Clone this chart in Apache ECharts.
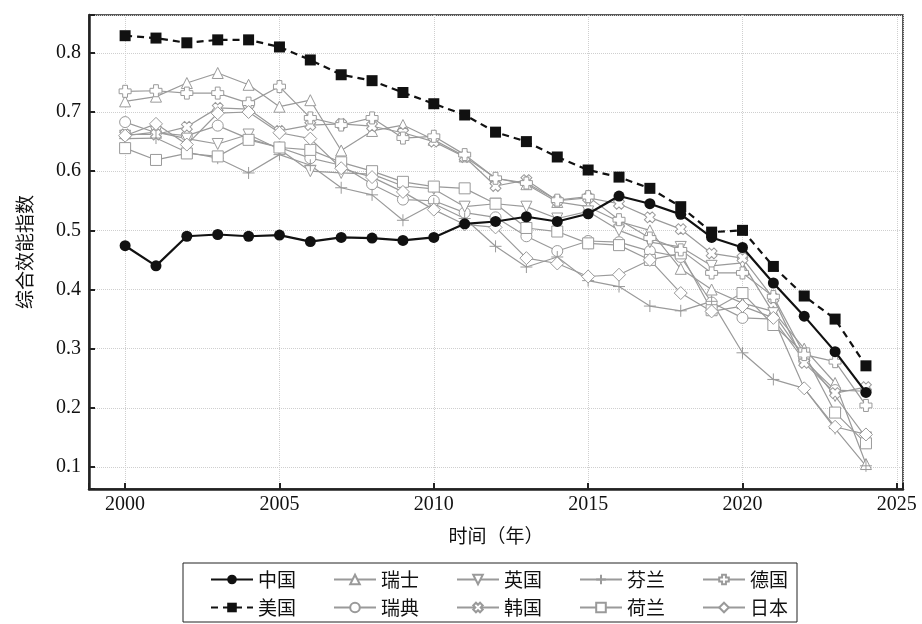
<!DOCTYPE html>
<html>
<head>
<meta charset="utf-8">
<script src="https://cdn.jsdelivr.net/npm/echarts@6/dist/echarts.min.js"></script>
<style>
  html, body { margin: 0; padding: 0; background: #fff; }
  #main { width: 922px; height: 624px; }
</style>
</head>
<body>
<div id="main"></div>
<script>
var years = [2000, 2001, 2002, 2003, 2004, 2005, 2006, 2007, 2008, 2009, 2010, 2011, 2012,
             2013, 2014, 2015, 2016, 2017, 2018, 2019, 2020, 2021, 2022, 2023, 2024];

var china = [0.474, 0.440, 0.490, 0.493, 0.490, 0.492, 0.481, 0.488, 0.487, 0.483, 0.488, 0.511, 0.515,
             0.523, 0.515, 0.528, 0.558, 0.545, 0.527, 0.488, 0.471, 0.411, 0.355, 0.295, 0.226];
var usa = [0.829, 0.825, 0.817, 0.822, 0.822, 0.810, 0.788, 0.763, 0.753, 0.733, 0.714, 0.695, 0.666,
           0.650, 0.624, 0.602, 0.590, 0.571, 0.540, 0.497, 0.500, 0.439, 0.389, 0.350, 0.271];
var swiss = [0.718, 0.726, 0.749, 0.766, 0.746, 0.709, 0.720, 0.635, 0.668, 0.678, 0.653, 0.625, 0.588,
             0.578, 0.548, 0.540, 0.515, 0.500, 0.435, 0.400, 0.377, 0.363, 0.300, 0.242, 0.105];
var sweden = [0.683, 0.665, 0.660, 0.677, 0.655, 0.640, 0.622, 0.610, 0.578, 0.552, 0.550, 0.530, 0.522,
              0.490, 0.465, 0.482, 0.480, 0.465, 0.455, 0.378, 0.352, 0.350, 0.280, 0.230, 0.228];
var uk = [0.660, 0.666, 0.655, 0.646, 0.662, 0.637, 0.600, 0.597, 0.595, 0.575, 0.570, 0.540, 0.545,
          0.540, 0.520, 0.532, 0.500, 0.480, 0.472, 0.440, 0.445, 0.360, 0.285, 0.220, 0.150];
var korea = [0.662, 0.662, 0.675, 0.707, 0.705, 0.668, 0.678, 0.680, 0.676, 0.665, 0.650, 0.624, 0.575,
             0.585, 0.550, 0.555, 0.545, 0.522, 0.502, 0.461, 0.453, 0.385, 0.276, 0.225, 0.235];
var finland = [0.655, 0.656, 0.632, 0.622, 0.597, 0.628, 0.610, 0.572, 0.560, 0.517, 0.545, 0.520, 0.473,
               0.438, 0.455, 0.415, 0.405, 0.372, 0.364, 0.380, 0.293, 0.248, 0.233, 0.165, 0.102];
var netherlands = [0.639, 0.619, 0.630, 0.625, 0.653, 0.640, 0.636, 0.615, 0.600, 0.582, 0.574, 0.571, 0.545,
                   0.504, 0.498, 0.478, 0.475, 0.450, 0.461, 0.365, 0.394, 0.340, 0.292, 0.192, 0.140];
var germany = [0.735, 0.736, 0.732, 0.732, 0.715, 0.743, 0.690, 0.678, 0.690, 0.656, 0.659, 0.628, 0.588,
               0.580, 0.551, 0.557, 0.518, 0.487, 0.467, 0.428, 0.428, 0.388, 0.290, 0.278, 0.204];
var japan = [0.660, 0.680, 0.645, 0.698, 0.700, 0.665, 0.655, 0.605, 0.590, 0.565, 0.535, 0.510, 0.505,
             0.453, 0.444, 0.422, 0.425, 0.450, 0.394, 0.363, 0.372, 0.352, 0.233, 0.168, 0.155];

var legendRow1 = ['中国', '瑞士', '英国', '芬兰', '德国'];
var legendRow2 = ['美国', '瑞典', '韩国', '荷兰', '日本'];

var gray = '#9a9a9a';
var serif = 'Liberation Serif';
var cjk = 'Noto Sans CJK SC';

function pairs(vals) {
  return years.map(function (y, i) { return [y, vals[i]]; });
}

function graySeries(name, vals, symbol, size) {
  return {
    name: name,
    type: 'line',
    data: pairs(vals),
    symbol: symbol,
    symbolSize: size || 11,
    lineStyle: { color: gray, width: 1.2 },
    itemStyle: { color: '#fff', borderColor: gray, borderWidth: 1 },
    z: 2
  };
}

var myChart = echarts.init(document.getElementById('main'));

var option = {
  animation: false,
  backgroundColor: '#fff',
  grid: {
    left: 89, right: 19, top: 15, bottom: 135,
    show: true, borderColor: '#222', borderWidth: 1.5
  },
  xAxis: {
    type: 'value',
    min: 1998.83,
    max: 2025.2,
    splitNumber: 5,
    name: '时间（年）',
    nameLocation: 'middle',
    nameGap: 37,
    nameTextStyle: { fontFamily: cjk, fontSize: 19, color: '#111' },
    axisLine: { lineStyle: { color: '#222', width: 2.5 } },
    axisTick: { inside: true, length: 6, lineStyle: { color: '#222', width: 2 } },
    axisLabel: {
      fontFamily: serif, fontSize: 20, color: '#111', margin: 6,
      formatter: function (v) { return v % 5 === 0 ? String(v) : ''; }
    },
    splitLine: { show: true, lineStyle: { color: '#cfcfcf', type: 'dotted', width: 1 } }
  },
  yAxis: {
    type: 'value',
    min: 0.0628,
    max: 0.864,
    splitNumber: 8,
    name: '综合效能指数',
    nameLocation: 'middle',
    nameRotate: 90,
    nameGap: 55,
    nameTextStyle: { fontFamily: cjk, fontSize: 19, color: '#111' },
    axisLine: { lineStyle: { color: '#222', width: 2.5 } },
    axisTick: { inside: true, length: 6, lineStyle: { color: '#222', width: 2 } },
    axisLabel: {
      fontFamily: serif, fontSize: 20, color: '#111', margin: 8,
      formatter: function (v) {
        return Math.abs(v * 10 - Math.round(v * 10)) < 1e-6 ? v.toFixed(1) : '';
      }
    },
    splitLine: { show: true, lineStyle: { color: '#cfcfcf', type: 'dotted', width: 1 } }
  },
  legend: [
    {
      data: legendRow1,
      left: 205, top: 565,
      itemWidth: 42, itemHeight: 12, itemGap: 37,
      textStyle: { fontFamily: cjk, fontSize: 19, color: '#111' }
    },
    {
      data: legendRow2,
      left: 205, top: 593,
      itemWidth: 42, itemHeight: 12, itemGap: 37,
      textStyle: { fontFamily: cjk, fontSize: 19, color: '#111' }
    }
  ],
  graphic: [
    {
      type: 'rect',
      shape: { x: 183, y: 563, width: 614, height: 59 },
      style: { fill: 'none', stroke: '#222', lineWidth: 1 }
    }
  ],
  series: [
    graySeries('瑞士', swiss, 'triangle', 11),
    graySeries('瑞典', sweden, 'circle', 11),
    graySeries('英国', uk, 'path://M0,0H10L5,9Z', 11),
    graySeries('韩国', korea, 'path://M3,0H7V3H10V7H7V10H3V7H0V3H3Z', 11),
    graySeries('芬兰', finland, 'path://M5,0V10M0,5H10', 12),
    graySeries('荷兰', netherlands, 'rect', 11),
    graySeries('德国', germany, 'path://M3,0H7V3H10V7H7V10H3V7H0V3H3Z', 12),
    graySeries('日本', japan, 'diamond', 13),
    {
      name: '中国',
      type: 'line',
      data: pairs(china),
      symbol: 'circle',
      symbolSize: 11,
      lineStyle: { color: '#111', width: 2.2 },
      itemStyle: { color: '#111' },
      z: 4
    },
    {
      name: '美国',
      type: 'line',
      data: pairs(usa),
      symbol: 'rect',
      symbolSize: 11,
      lineStyle: { color: '#111', width: 2.2, type: [7, 5] },
      itemStyle: { color: '#111' },
      z: 4
    }
  ]
};

// 韩国 uses the plus outline turned 45 degrees
option.series[3].symbolRotate = 45;

myChart.setOption(option);
</script>
</body>
</html>
